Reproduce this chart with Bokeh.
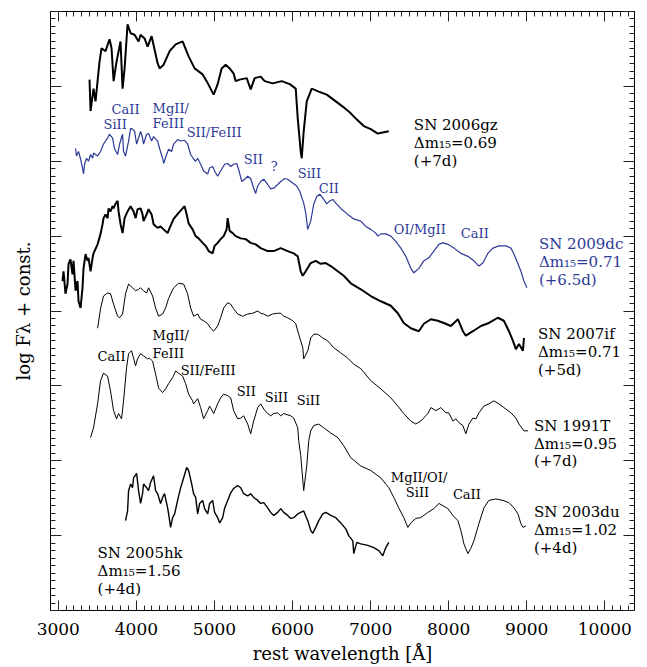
from bokeh.plotting import figure
from bokeh.models import ColumnDataSource, LinearAxis, SingleIntervalTicker, Range1d, CustomJSTickFormatter
from bokeh.core.properties import value
from bokeh.embed import file_html
from bokeh.resources import INLINE

# ---------------- data (rest wavelength [A], log F_lambda + const) ----------------
sn2006gz_wave = [3400,3413,3451,3477,3528,3554,3605,3656,3682,3708,3746,3797,3823,3849,3887,3926,3977,4028,4054,4105,
                 4144,4195,4272,4297,4349,4426,4503,4592,4669,4746,4849,4900,4990,5041,5092,5144,5195,5246,5272,5323,
                 5413,5464,5515,5592,5643,5746,5861,5964,6041,6067,6105,6118,6143,6182,6246,6336,6438,6554,6643,6746,
                 6810,6913,7002,7092,7233]
sn2006gz_flux = [7.09,6.67,6.97,6.80,7.33,7.51,7.47,7.63,7.51,7.07,7.33,7.60,6.97,7.24,7.83,7.71,7.69,7.60,7.69,7.64,
                 7.53,7.67,7.31,7.24,7.29,7.47,7.56,7.60,7.40,7.24,7.16,7.07,6.89,7.03,7.24,7.29,7.24,7.17,7.07,7.09,
                 7.11,6.96,7.11,7.13,7.07,7.04,7.07,7.03,6.97,6.57,6.13,6.04,6.40,6.80,6.97,6.93,6.89,6.80,6.73,6.64,
                 6.57,6.47,6.43,6.37,6.40]

sn2009dc_wave = [3221,3233,3259,3285,3310,3323,3336,3362,3387,3413,3439,3451,3503,3541,3579,3631,3656,3695,3720,3759,
                 3785,3823,3836,3861,3900,3926,3951,3977,4003,4028,4054,4079,4092,4131,4156,4195,4220,4272,4297,4336,
                 4349,4387,4413,4451,4477,4528,4567,4618,4656,4695,4733,4759,4785,4823,4861,4913,4938,4977,5002,5041,
                 5079,5131,5169,5208,5246,5285,5310,5349,5387,5426,5464,5502,5528,5554,5592,5631,5682,5720,5759,5810,
                 5849,5900,5938,6002,6054,6092,6143,6169,6195,6233,6272,6310,6349,6400,6438,6477,6515,6554,6618,6708,
                 6784,6874,6938,7002,7066,7092,7131,7195,7259,7323,7387,7451,7515,7554,7618,7682,7746,7810,7874,7926,
                 7990,8067,8156,8246,8323,8387,8438,8502,8566,8643,8733,8797,8836,8887,8925,8964,9002]
sn2009dc_flux = [6.17,6.07,6.13,6.03,5.91,5.83,5.96,6.04,6.00,6.09,6.04,6.11,6.07,6.13,6.23,6.31,6.36,6.31,6.17,6.09,
                 6.23,6.36,6.13,6.07,6.27,6.44,6.43,6.40,6.23,6.31,6.40,6.31,6.23,6.36,6.37,6.27,6.33,6.27,6.17,6.04,
                 5.97,6.09,6.16,6.13,6.23,6.29,6.27,6.28,6.23,6.09,6.03,6.00,6.04,5.96,5.87,5.83,5.91,5.93,5.87,5.80,
                 5.87,5.96,5.97,5.93,5.96,5.97,5.89,5.73,5.76,5.80,5.77,5.64,5.57,5.67,5.73,5.76,5.69,5.63,5.64,5.69,
                 5.73,5.77,5.76,5.71,5.67,5.60,5.44,5.31,5.09,5.20,5.43,5.53,5.56,5.49,5.43,5.47,5.49,5.44,5.37,5.29,
                 5.23,5.20,5.13,5.09,5.04,5.00,5.03,5.03,5.00,4.93,4.84,4.73,4.57,4.51,4.57,4.67,4.71,4.80,4.89,4.91,
                 4.89,4.84,4.77,4.73,4.67,4.60,4.64,4.77,4.84,4.87,4.87,4.84,4.76,4.63,4.53,4.40,4.31]

sn2007if_wave = [3054,3067,3092,3118,3131,3156,3182,3195,3221,3246,3259,3285,3310,3323,3349,3374,3387,3413,3439,3451,
                 3503,3541,3567,3579,3605,3631,3644,3669,3695,3708,3733,3759,3772,3797,3823,3849,3887,3926,3964,3990,
                 4015,4054,4079,4092,4131,4156,4195,4220,4272,4310,4349,4400,4426,4477,4541,4592,4618,4644,4669,4720,
                 4759,4797,4849,4887,4926,4977,5002,5041,5079,5118,5156,5169,5195,5233,5272,5336,5400,5464,5528,5592,
                 5682,5759,5849,5938,6015,6067,6105,6131,6169,6233,6297,6361,6426,6490,6579,6656,6746,6874,7002,7131,
                 7259,7349,7425,7515,7618,7682,7772,7861,7938,8028,8118,8182,8220,8310,8413,8515,8630,8707,8772,8823,
                 8861,8900,8951,8964]
sn2007if_flux = [4.40,4.53,4.23,4.36,4.63,4.69,4.49,4.67,4.27,4.40,4.13,4.04,4.31,4.57,4.76,4.67,4.71,4.53,4.71,4.77,
                 4.89,5.03,5.16,5.24,5.29,5.24,5.37,5.33,5.40,5.37,5.43,5.47,5.33,5.16,5.04,5.24,5.33,5.40,5.33,5.24,
                 5.36,5.37,5.29,5.20,5.29,5.36,5.29,5.16,5.11,5.13,5.09,5.04,5.11,5.23,5.31,5.37,5.40,5.29,5.17,5.09,
                 5.00,4.97,4.91,4.87,4.80,4.77,4.87,4.91,4.96,5.00,5.09,5.24,5.07,5.04,5.00,4.97,4.96,4.91,4.89,4.84,
                 4.80,4.80,4.84,4.80,4.77,4.73,4.53,4.47,4.53,4.64,4.67,4.63,4.64,4.60,4.53,4.47,4.37,4.29,4.20,4.13,
                 4.07,3.97,3.84,3.77,3.73,3.83,3.89,3.87,3.84,3.80,3.89,3.73,3.67,3.73,3.80,3.84,3.91,3.87,3.73,3.60,
                 3.49,3.56,3.47,3.64]

sn1991t_wave = [3503,3541,3579,3631,3669,3708,3759,3785,3823,3861,3900,3951,3990,4028,4054,4092,4131,4156,4208,4246,
                4285,4336,4374,4413,4477,4541,4605,4656,4695,4733,4785,4823,4861,4913,4951,4990,5041,5079,5118,5169,
                5208,5246,5297,5361,5426,5490,5554,5592,5631,5682,5746,5810,5849,5887,5938,6002,6041,6079,6131,6143,
                6195,6233,6272,6323,6387,6451,6528,6618,6708,6784,6874,7002,7131,7259,7349,7425,7515,7579,7643,7733,
                7772,7836,7900,7964,8002,8054,8092,8131,8182,8220,8259,8310,8349,8387,8451,8515,8579,8643,8707,8797,
                8861,8900,8964,9015]
sn1991t_flux = [3.77,4.03,4.20,4.24,4.23,4.09,3.93,3.91,3.96,4.23,4.36,4.31,4.27,4.29,4.31,4.27,4.24,4.31,4.20,4.04,
                3.93,3.96,4.04,4.17,4.31,4.37,4.36,4.23,4.04,3.93,3.96,3.89,3.87,3.83,3.77,3.73,3.80,3.91,4.04,4.11,
                4.09,4.03,3.96,3.93,3.96,3.97,4.00,3.97,3.96,3.93,3.96,3.97,3.97,3.93,3.91,3.87,3.83,3.69,3.51,3.36,
                3.47,3.64,3.69,3.69,3.64,3.60,3.51,3.44,3.37,3.29,3.23,3.07,2.96,2.84,2.73,2.63,2.53,2.49,2.53,2.63,
                2.71,2.67,2.71,2.64,2.64,2.53,2.56,2.51,2.47,2.36,2.49,2.57,2.56,2.64,2.73,2.76,2.80,2.76,2.71,2.64,
                2.57,2.49,2.40,2.40]

sn2003du_wave = [3413,3451,3503,3541,3579,3631,3669,3708,3746,3772,3810,3836,3874,3900,3938,3964,3990,4015,4054,4092,
                 4144,4169,4208,4246,4285,4336,4374,4413,4464,4503,4541,4592,4631,4669,4720,4733,4785,4823,4861,4913,
                 4938,4990,5041,5079,5118,5169,5208,5246,5297,5336,5374,5426,5464,5502,5554,5592,5631,5682,5720,5759,
                 5810,5849,5887,5977,6015,6067,6079,6105,6143,6182,6208,6233,6272,6336,6400,6490,6579,6656,6746,6874,
                 7002,7131,7233,7297,7361,7425,7477,7515,7579,7643,7733,7810,7874,7926,7990,8054,8118,8156,8195,8246,
                 8284,8323,8387,8451,8515,8605,8695,8772,8836,8887,8925,8951,8989]
sn2003du_flux = [2.31,2.44,2.76,3.07,3.17,3.13,2.93,2.67,2.56,2.63,2.56,2.80,3.24,3.43,3.47,3.37,3.27,3.36,3.43,3.40,
                 3.36,3.37,3.33,3.16,2.97,2.91,2.96,3.03,3.11,3.20,3.17,3.13,3.03,2.89,2.80,2.76,2.83,2.71,2.56,2.67,
                 2.73,2.63,2.76,2.84,2.89,2.87,2.84,2.67,2.56,2.57,2.60,2.49,2.36,2.53,2.71,2.76,2.69,2.63,2.60,2.63,
                 2.64,2.60,2.63,2.60,2.57,2.44,2.27,2.07,1.60,1.93,2.27,2.40,2.47,2.49,2.44,2.37,2.31,2.20,2.04,1.93,
                 1.87,1.77,1.64,1.51,1.37,1.24,1.11,1.17,1.23,1.24,1.31,1.36,1.43,1.40,1.36,1.27,1.20,1.07,0.89,0.76,
                 0.83,0.93,1.16,1.37,1.47,1.49,1.47,1.44,1.37,1.29,1.16,1.11,1.13]

sn2005hk_wave = [3861,3887,3900,3926,3951,3964,4003,4028,4054,4079,4092,4131,4156,4182,4220,4246,4272,4310,4336,4361,
                 4400,4413,4438,4464,4490,4528,4567,4605,4644,4669,4708,4733,4759,4785,4810,4849,4874,4913,4938,4977,
                 5002,5041,5067,5105,5131,5169,5208,5246,5297,5336,5374,5426,5464,5502,5554,5592,5631,5682,5720,5759,
                 5810,5849,5887,5938,5977,6015,6067,6105,6143,6195,6233,6259,6297,6336,6387,6426,6490,6554,6618,6682,
                 6720,6772,6784,6823,6874,6964,7041,7105,7156,7195,7233]
sn2005hk_flux = [1.20,1.33,1.60,1.69,1.64,1.77,1.83,1.60,1.43,1.56,1.69,1.64,1.60,1.71,1.80,1.60,1.56,1.43,1.51,1.56,
                 1.37,1.29,1.11,1.24,1.29,1.47,1.64,1.77,1.91,1.87,1.69,1.56,1.51,1.29,1.43,1.47,1.36,1.29,1.43,1.47,
                 1.31,1.24,1.17,1.24,1.37,1.47,1.57,1.63,1.67,1.64,1.56,1.53,1.56,1.51,1.47,1.43,1.44,1.37,1.31,1.27,
                 1.31,1.36,1.31,1.27,1.23,1.24,1.29,1.31,1.33,1.20,1.07,1.03,1.11,1.20,1.29,1.31,1.27,1.24,1.17,1.09,
                 1.00,0.93,0.76,0.91,0.89,0.87,0.84,0.80,0.73,0.84,0.91]

sn_names = ["SN 2006gz", "SN 2009dc", "SN 2007if", "SN 1991T", "SN 2003du", "SN 2005hk"]
sn_dm15 = ["0.69", "0.71", "0.71", "0.95", "1.02", "1.56"]
sn_phase = ["+7d", "+6.5d", "+5d", "+7d", "+4d", "+4d"]

blue_ids = ["CaII", "SiII", "MgII/", "FeIII", "SII/FeIII", "SII", "?", "SiII", "CII", "OI/MgII", "CaII"]
black_ids = ["CaII", "MgII/", "FeIII", "SII/FeIII", "SII", "SiII", "SiII", "MgII/OI/", "SiII", "CaII"]

# ---------------- positions & styles ----------------
BLUE = "#2d3a96"
FONT = "DejaVu Serif"

blue_ids_x = [3682, 3579, 4208, 4208, 4644, 5374, 5720, 6067, 6336, 7297, 8156]
blue_ids_y = [6.69, 6.49, 6.71, 6.51, 6.39, 6.03, 5.93, 5.83, 5.63, 5.09, 5.04]
black_ids_x = [3503, 4208, 4208, 4567, 5285, 5644, 6054, 7259, 7451, 8054]
black_ids_y = [3.39, 3.67, 3.43, 3.21, 2.93, 2.85, 2.80, 1.77, 1.57, 1.55]

sn_label_x = [7554, 9156, 9144, 9092, 9092, 3503]
sn_label_y = [6.49, 4.89, 3.69, 2.47, 1.31, 0.77]
sn_label_color = ["black", BLUE, "black", "black", "black", "black"]
LINE_STEP = 0.24

p = figure(width=647, height=667, x_range=Range1d(2900, 10380), y_range=Range1d(0, 8),
           output_backend="svg", toolbar_location=None,
           min_border_left=50, min_border_right=13, min_border_top=11, min_border_bottom=57)
p.grid.grid_line_color = None
p.outline_line_color = "black"
p.outline_line_width = 1

xt = SingleIntervalTicker(interval=1000, num_minor_ticks=10)
yt = SingleIntervalTicker(interval=1, num_minor_ticks=10)
blank = CustomJSTickFormatter(code="return ''")


def style_axis(ax, ticker, major_len, labels):
    ax.ticker = ticker
    ax.major_tick_in = major_len
    ax.major_tick_out = 0
    ax.minor_tick_in = 5
    ax.minor_tick_out = 0
    ax.axis_line_color = "black"
    ax.major_tick_line_color = "#222222"
    ax.minor_tick_line_color = "#222222"
    if not labels:
        ax.formatter = blank
        ax.major_label_standoff = 0


xb = p.xaxis[0]
style_axis(xb, xt, 10, True)
xb.major_label_text_font = FONT
xb.major_label_text_font_size = "17px"
xb.major_label_text_color = "black"
xb.major_label_standoff = 12
xb.axis_label = "rest wavelength [Å]"
xb.axis_label_text_font = FONT
xb.axis_label_text_font_size = "18px"
xb.axis_label_text_font_style = "normal"
xb.axis_label_text_color = "black"
xb.axis_label_standoff = 5

yl = p.yaxis[0]
style_axis(yl, yt, 11, False)
yl.axis_label = "log Fλ + const."
yl.axis_label_text_font = FONT
yl.axis_label_text_font_size = "18px"
yl.axis_label_text_font_style = "normal"
yl.axis_label_text_color = "black"
yl.axis_label_standoff = 17

xtop = LinearAxis()
style_axis(xtop, xt, 10, False)
p.add_layout(xtop, "above")
yright = LinearAxis()
style_axis(yright, yt, 11, False)
p.add_layout(yright, "right")

# spectra
p.line(sn2006gz_wave, sn2006gz_flux, line_color="black", line_width=2.0)
p.line(sn2009dc_wave, sn2009dc_flux, line_color=BLUE, line_width=1.2)
p.line(sn2007if_wave, sn2007if_flux, line_color="black", line_width=2.0)
p.line(sn1991t_wave, sn1991t_flux, line_color="black", line_width=1.0)
p.line(sn2003du_wave, sn2003du_flux, line_color="black", line_width=1.0)
p.line(sn2005hk_wave, sn2005hk_flux, line_color="black", line_width=1.4)

# line identifications
p.text(x=blue_ids_x, y=blue_ids_y, text=blue_ids, text_font=value(FONT), text_font_size="13px",
       text_color=BLUE, text_align="left", text_baseline="alphabetic")
p.text(x=black_ids_x, y=black_ids_y, text=black_ids, text_font=value(FONT), text_font_size="13px",
       text_color="black", text_align="left", text_baseline="alphabetic")

# SN labels
lx, ly, lt, lc = [], [], [], []
for i, name in enumerate(sn_names):
    lines = [name, "Δm₁₅=" + sn_dm15[i], "(" + sn_phase[i] + ")"]
    for k, t in enumerate(lines):
        lx.append(sn_label_x[i])
        ly.append(sn_label_y[i] - k * LINE_STEP)
        lt.append(t)
        lc.append(sn_label_color[i])
src = ColumnDataSource(dict(x=lx, y=ly, text=lt, color=lc))
p.text(x="x", y="y", text="text", text_color="color", source=src, text_font=value(FONT),
       text_font_size="15px", text_align="left", text_baseline="alphabetic")

open("out.html", "w").write(file_html(p, INLINE))
